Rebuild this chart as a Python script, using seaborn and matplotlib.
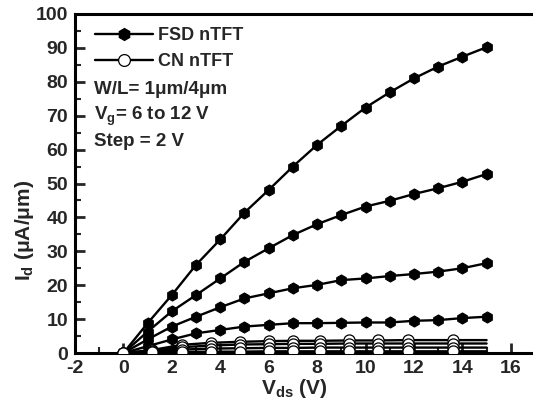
import matplotlib
matplotlib.use("Agg")
import matplotlib.pyplot as plt
import seaborn as sns
import numpy as np
import pandas as pd
from matplotlib.ticker import MultipleLocator
from matplotlib.lines import Line2D

# ---- data ----
fsd_vds = [0, 1, 2, 3, 4, 5, 6, 7, 8, 9, 10, 11, 12, 13, 14, 15]
fsd_vg12 = [0, 8.8, 17.1, 26.0, 33.5, 41.4, 48.1, 55.0, 61.4, 67.0, 72.4, 76.9, 81.0, 84.5, 87.4, 90.2]
fsd_vg10 = [0, 6.3, 12.3, 17.1, 22.0, 26.9, 30.9, 34.8, 38.0, 40.7, 43.2, 44.9, 46.9, 48.6, 50.5, 52.8]
fsd_vg8 = [0, 4.0, 7.8, 10.7, 13.5, 16.1, 17.6, 19.1, 20.1, 21.5, 22.0, 22.7, 23.3, 24.0, 25.0, 26.5]
fsd_vg6 = [0, 2.0, 4.0, 5.8, 6.8, 7.8, 8.3, 8.8, 8.8, 8.9, 9.0, 9.0, 9.5, 9.7, 10.3, 10.7]

cn_vds = [0, 1.2, 2.4, 3.6, 4.8, 6.0, 7.0, 8.1, 9.3, 10.5, 11.75, 13.6, 15]
cn_vg12 = [0, 0.9, 2.4, 3.0, 3.3, 3.5, 3.6, 3.6, 3.7, 3.7, 3.8, 3.8, 3.8]
cn_vg10 = [0, 0.6, 1.7, 2.2, 2.5, 2.6, 2.7, 2.7, 2.8, 2.8, 2.8, 2.8, 2.8]
cn_vg8 = [0, 0.4, 1.0, 1.3, 1.4, 1.5, 1.5, 1.6, 1.6, 1.6, 1.6, 1.6, 1.6]
cn_vg6 = [0, 0.2, 0.3, 0.4, 0.4, 0.5, 0.5, 0.5, 0.5, 0.5, 0.5, 0.5, 0.5]

x_ticks = [-2, 0, 2, 4, 6, 8, 10, 12, 14, 16]
y_ticks = [0, 10, 20, 30, 40, 50, 60, 70, 80, 90, 100]

legend_labels = ["FSD nTFT", "CN nTFT"]
note_lines = ["W/L= 1\u03bcm/4\u03bcm", "V$_{\\mathregular{g}}$= 6 to 12 V", "Step = 2 V"]

# ---- style ----
sns.set_theme(style="ticks")
plt.rcParams["font.family"] = ["Liberation Sans", "DejaVu Sans"]
plt.rcParams["font.weight"] = "bold"
plt.rcParams["mathtext.fontset"] = "custom"
plt.rcParams["mathtext.rm"] = "Liberation Sans:bold"
plt.rcParams["mathtext.bf"] = "Liberation Sans:bold"
plt.rcParams["mathtext.it"] = "Liberation Sans:bold"

fig = plt.figure(figsize=(5.33, 4.13), dpi=100)
ax = fig.add_axes([75 / 533, 1 - 353 / 413, 460 / 533, 339 / 413])

# FSD curves
for ys in [fsd_vg12, fsd_vg10, fsd_vg8, fsd_vg6]:
    df = pd.DataFrame({"Vds": fsd_vds, "Id": ys})
    sns.lineplot(data=df, x="Vds", y="Id", ax=ax, color="black", lw=1.7,
                 marker="h", markersize=8, markerfacecolor="black",
                 markeredgecolor="black", estimator=None, sort=False, zorder=3)

# CN curves
for ys in [cn_vg12, cn_vg10, cn_vg8, cn_vg6]:
    df = pd.DataFrame({"Vds": cn_vds, "Id": ys})
    sns.lineplot(data=df, x="Vds", y="Id", ax=ax, color="black", lw=1.7,
                 marker="o", markersize=8, markerfacecolor="white",
                 markeredgecolor="black", markeredgewidth=0.9,
                 markevery=list(range(len(cn_vds) - 1)),
                 estimator=None, sort=False, zorder=4)

ax.set_xlim(-2, 17)
ax.set_ylim(0, 100)
ax.set_xticks(x_ticks)
ax.set_yticks(y_ticks)
ax.set_xticklabels([str(t) for t in x_ticks])
ax.set_yticklabels([str(t) for t in y_ticks])
ax.xaxis.set_minor_locator(MultipleLocator(1))
ax.yaxis.set_minor_locator(MultipleLocator(5))
ax.tick_params(which="major", direction="in", length=7, width=2, labelsize=14,
               top=False, right=False, pad=5)
ax.tick_params(which="minor", direction="in", length=4, width=1.5,
               top=False, right=False)
for lab in ax.get_xticklabels() + ax.get_yticklabels():
    lab.set_fontweight("bold")
for sp in ax.spines.values():
    sp.set_linewidth(2.2)
    sp.set_color("black")
ax.spines["right"].set_visible(False)

ax.set_xlabel("V$_{\\mathregular{ds}}$ (V)", fontsize=15, fontweight="bold")
ax.set_ylabel("I$_{\\mathregular{d}}$ (\u03bcA/\u03bcm)", fontsize=15, fontweight="bold")
ax.xaxis.set_label_coords((294 - 75) / 460, -(388 - 353) / 339)
ax.yaxis.set_label_coords(-(75 - 25) / 460, (353 - 230) / 339)
ax.xaxis.label.set_va("center")
ax.yaxis.label.set_va("center")

handles = [
    Line2D([0], [0], color="black", lw=1.7, marker="h", markersize=8.5,
           markerfacecolor="black", markeredgecolor="black"),
    Line2D([0], [0], color="black", lw=1.7, marker="o", markersize=8.5,
           markerfacecolor="white", markeredgecolor="black", markeredgewidth=0.9),
]
leg = ax.legend(handles, legend_labels, loc="upper left", frameon=False,
                bbox_to_anchor=(20 / 460, 1 - 13 / 339), borderaxespad=0, borderpad=0,
                handlelength=3.2, handletextpad=0.3, labelspacing=0.5,
                prop={"weight": "bold", "size": 13})

for i, t in enumerate(note_lines):
    ax.text(19 / 460, 1 - (76 + 26 * i) / 339, t, transform=ax.transAxes,
            ha="left", va="center", fontsize=13.5, fontweight="bold")

fig.savefig("out.png", dpi=100)
